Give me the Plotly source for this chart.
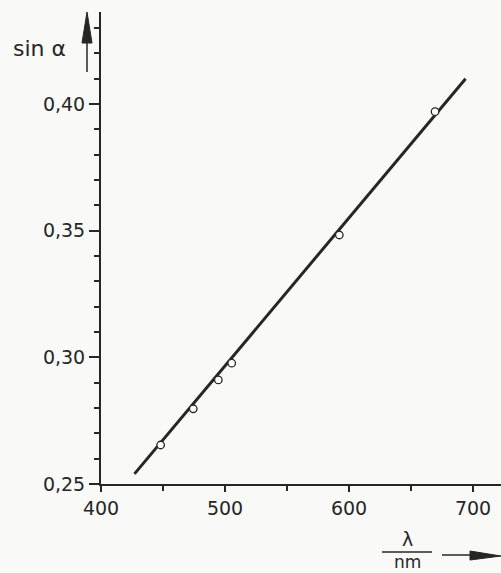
import plotly.graph_objects as go

# Data (He spectral lines vs. sin alpha)
wavelength_nm = [448.1, 474.4, 494.6, 505.4, 592.2, 669.4]
sin_alpha = [0.2654, 0.2797, 0.2911, 0.2977, 0.3483, 0.3970]

# Fitted straight line (end points)
fit_lambda = [427.0, 694.0]
fit_sin = [0.2540, 0.4100]

x_ticks = [400, 500, 600, 700]
y_ticks = [0.25, 0.30, 0.35, 0.40]
y_ticklabels = ["0,25", "0,30", "0,35", "0,40"]

W, H = 501, 573
L, R, T, B = 101, 0, 12, 89
PW, PH = W - L - R, H - T - B

def px(x):
    return (x - L) / PW

def py(y):
    return (H - B - y) / PH

INK = "#262626"
BG = "#f9f9f7"
FONT = "DejaVu Sans"

fig = go.Figure()
fig.add_trace(go.Scatter(x=fit_lambda, y=fit_sin, mode="lines",
                         line=dict(color=INK, width=3), hoverinfo="skip"))
fig.add_trace(go.Scatter(x=wavelength_nm, y=sin_alpha, mode="markers",
                         marker=dict(symbol="circle", size=7.5, color="white",
                                     line=dict(color=INK, width=1.3))))

fig.update_layout(
    width=W, height=H,
    margin=dict(l=L, r=R, t=T, b=B, pad=0),
    paper_bgcolor=BG, plot_bgcolor=BG,
    showlegend=False,
    separators=",.",
    font=dict(family=FONT, color=INK),
)
fig.update_xaxes(range=[400, 400 + PW / 1.24], tickvals=x_ticks,
                 ticks="outside", ticklen=6, tickwidth=1.5, tickcolor=INK,
                 showline=True, linecolor=INK, linewidth=2,
                 showgrid=False, zeroline=False,
                 tickfont=dict(size=19, family=FONT, color=INK),
                 minor=dict(tickvals=[450, 550, 650], ticks="outside",
                            ticklen=5, tickwidth=1.5, tickcolor=INK))
fig.update_yaxes(range=[0.25, 0.25 + PH / 2533.0], tickvals=y_ticks,
                 ticktext=y_ticklabels,
                 ticks="outside", ticklen=10, tickwidth=1.5, tickcolor=INK,
                 showline=True, linecolor=INK, linewidth=2,
                 showgrid=False, zeroline=False,
                 tickfont=dict(size=19, family=FONT, color=INK),
                 minor=dict(dtick=0.01, ticks="outside", ticklen=5,
                            tickwidth=1.5, tickcolor=INK))

def label(x, y, text, size):
    fig.add_annotation(x=px(x), y=py(y), xref="paper", yref="paper",
                       xanchor="center", yanchor="middle",
                       text=text, showarrow=False,
                       font=dict(size=size, family=FONT, color=INK))

# y-axis label with upward arrow
label(39, 48, "sin α", 22)
fig.add_shape(type="line", xref="paper", yref="paper",
              x0=px(87), x1=px(87), y0=py(72), y1=py(35),
              line=dict(color=INK, width=1.5))
fig.add_shape(type="path", xref="paper", yref="paper",
              path=f"M {px(82)} {py(43)} L {px(87)} {py(12)} L {px(92)} {py(43)} Z",
              fillcolor=INK, line=dict(color=INK, width=1))

# x-axis label (fraction lambda / nm) with right arrow
label(407, 539, "λ", 19)
fig.add_shape(type="line", xref="paper", yref="paper",
              x0=px(382), x1=px(432), y0=py(552), y1=py(552),
              line=dict(color=INK, width=1.5))
label(407, 562, "nm", 17)
fig.add_shape(type="line", xref="paper", yref="paper",
              x0=px(442), x1=px(475), y0=py(555), y1=py(555),
              line=dict(color=INK, width=1.5))
fig.add_shape(type="path", xref="paper", yref="paper",
              path=f"M {px(470)} {py(551)} L {px(501)} {py(556)} L {px(470)} {py(560)} Z",
              fillcolor=INK, line=dict(color=INK, width=1))

fig.write_html("out.html",
               config={"displayModeBar": False},
               post_script=f"document.body.style.margin='0';"
                           f"document.body.style.background='{BG}';")
